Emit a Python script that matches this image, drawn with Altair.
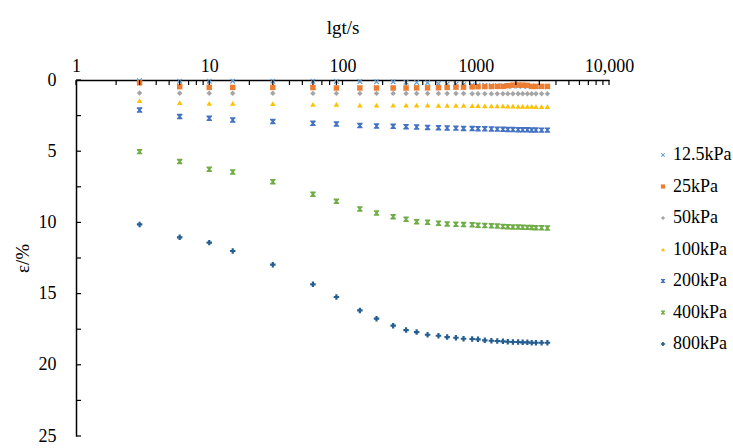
import altair as alt
import pandas as pd

# time (s)
times = [3, 6, 10, 15, 30, 60, 90, 135, 180, 240, 300, 360, 435, 525, 610, 710,
         810, 940, 1040, 1170, 1310, 1450, 1600, 1740, 1900, 2080, 2250, 2440,
         2630, 2830, 3120, 3450]

s_12_5 = [0.05, 0.08, 0.08, 0.08, 0.08, 0.09, 0.1, 0.11, 0.12, 0.13, 0.15, 0.17,
          0.2, 0.25, 0.28, 0.3, 0.33, 0.35, 0.37, 0.38, 0.4, 0.4, 0.41, 0.42,
          0.42, 0.43, 0.43, 0.44, 0.44, 0.45, 0.45, 0.45]
s_25 = [0.2, 0.47, 0.52, 0.52, 0.52, 0.53, 0.56, 0.56, 0.56, 0.56, 0.56, 0.55,
        0.55, 0.54, 0.52, 0.5, 0.5, 0.48, 0.47, 0.46, 0.46, 0.45, 0.45, 0.4,
        0.36, 0.35, 0.36, 0.38, 0.45, 0.45, 0.45, 0.45]
s_50 = [0.92, 0.93, 0.93, 0.93, 0.93, 0.94, 0.94, 0.94, 0.94, 0.94, 0.95, 0.95,
        0.95, 0.95, 0.95, 0.95, 0.95, 0.96, 0.96, 0.96, 0.96, 0.96, 0.96, 0.96,
        0.96, 0.96, 0.96, 0.96, 0.96, 0.96, 0.96, 0.96]
s_100 = [1.45, 1.59, 1.64, 1.64, 1.66, 1.71, 1.71, 1.76, 1.76, 1.76, 1.76, 1.77,
         1.77, 1.78, 1.78, 1.79, 1.79, 1.8, 1.8, 1.81, 1.81, 1.82, 1.82, 1.83,
         1.84, 1.85, 1.86, 1.86, 1.86, 1.87, 1.87, 1.87]
s_200 = [2.11, 2.57, 2.69, 2.81, 2.92, 3.04, 3.09, 3.2, 3.23, 3.25, 3.28, 3.3,
         3.33, 3.35, 3.37, 3.38, 3.4, 3.41, 3.42, 3.43, 3.44, 3.45, 3.46, 3.47,
         3.48, 3.49, 3.5, 3.5, 3.51, 3.51, 3.52, 3.52]
s_400 = [5.03, 5.73, 6.27, 6.46, 7.14, 8.03, 8.52, 9.06, 9.34, 9.6, 9.78, 9.95,
         9.99, 10.06, 10.11, 10.13, 10.15, 10.17, 10.2, 10.22, 10.24, 10.26,
         10.28, 10.3, 10.32, 10.33, 10.34, 10.35, 10.36, 10.37, 10.38, 10.4]
s_800 = [10.14, 11.05, 11.42, 12.01, 12.97, 14.35, 15.24, 16.18, 16.76, 17.25,
         17.56, 17.7, 17.89, 17.96, 18.05, 18.1, 18.17, 18.19, 18.21, 18.28,
         18.31, 18.33, 18.35, 18.38, 18.4, 18.4, 18.42, 18.42, 18.45, 18.45,
         18.45, 18.45]

series_names = ["12.5kPa", "25kPa", "50kPa", "100kPa", "200kPa", "400kPa", "800kPa"]
series_vals = [s_12_5, s_25, s_50, s_100, s_200, s_400, s_800]
colors = ["#5B9BD5", "#ED7D31", "#A5A5A5", "#FFC000", "#4472C4", "#70AD47", "#255E91"]

x_major = [1, 10, 100, 1000, 10000]
x_minor = [m * d for d in [1, 10, 100, 1000] for m in range(2, 10)]
y_ticks = [0, 2.5, 5, 7.5, 10, 12.5, 15, 17.5, 20, 22.5, 25]
y_labels = [0, 5, 10, 15, 20, 25]

thin_x = "M-1,-0.7L-0.7,-1L0,-0.3L0.7,-1L1,-0.7L0.3,0L1,0.7L0.7,1L0,0.3L-0.7,1L-1,0.7L-0.3,0Z"
hourglass = "M-1,-1L1,-1L1,-0.6L0.35,0L1,0.6L1,1L-1,1L-1,0.6L-0.35,0L-1,-0.6Z"
shapes = [thin_x, "square", "diamond", "triangle-up", hourglass, hourglass, "cross"]

rows = []
for name, vals in zip(series_names, series_vals):
    for t, v in zip(times, vals):
        rows.append({"t": t, "eps": v, "series": name})
df = pd.DataFrame(rows)

FONT = "Liberation Serif"
xscale = alt.Scale(type="log", domain=[1, 10000])
yscale = alt.Scale(domain=[0, 25], reverse=True)

xaxis = alt.Axis(orient="top", title="lgt/s", values=x_major, format="d",
                 labelExpr="datum.value == 10000 ? '10,000' : datum.label",
                 ticks=False, labelPadding=5, titlePadding=20,
                 labelFlush=False, grid=False)
yaxis = alt.Axis(title="ε/%", values=y_labels, ticks=False,
                 labelPadding=20, titlePadding=6, grid=False)

leg = alt.Legend(title=None, orient="none", legendX=578, legendY=66,
                 rowPadding=13.5, symbolSize=18, labelFont=FONT,
                 labelFontSize=18, labelOffset=1, padding=0)

points = alt.Chart(df).mark_point(filled=True, size=30, opacity=1).encode(
    x=alt.X("t:Q", scale=xscale, axis=xaxis),
    y=alt.Y("eps:Q", scale=yscale, axis=yaxis),
    color=alt.Color("series:N", sort=series_names,
                    scale=alt.Scale(domain=series_names, range=colors), legend=leg),
    shape=alt.Shape("series:N", sort=series_names,
                    scale=alt.Scale(domain=series_names, range=shapes), legend=leg),
)

xt_major = alt.Chart(pd.DataFrame({"t": x_major})).mark_rule(color="black", strokeWidth=1.2).encode(
    x=alt.X("t:Q", scale=xscale, axis=xaxis), y=alt.value(0), y2=alt.value(5))
xt_minor = alt.Chart(pd.DataFrame({"t": x_minor})).mark_rule(color="black", strokeWidth=1.2).encode(
    x=alt.X("t:Q", scale=xscale, axis=xaxis), y=alt.value(0), y2=alt.value(5))
yt = alt.Chart(pd.DataFrame({"eps": y_ticks})).mark_rule(color="black", strokeWidth=1.2).encode(
    y=alt.Y("eps:Q", scale=yscale, axis=yaxis), x=alt.value(0), x2=alt.value(5))

chart = alt.layer(points, xt_major, xt_minor, yt).properties(
    width=533, height=356,
    background="white",
    autosize=alt.AutoSizeParams(type="none"),
    padding={"left": 76, "top": 80, "right": 124, "bottom": 12},
).configure_view(stroke=None).configure_axis(
    grid=False, domainColor="black", domainWidth=1.5,
    labelFont=FONT, labelFontSize=18, labelColor="black",
    titleFont=FONT, titleFontSize=19, titleColor="black", titleFontWeight="normal",
)

chart.save("out.html", embed_options={"renderer": "svg", "actions": False})
